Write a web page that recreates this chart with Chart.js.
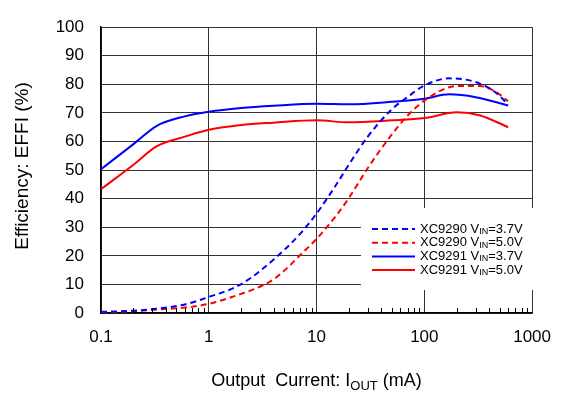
<!DOCTYPE html>
<html>
<head>
<meta charset="utf-8">
<script src="https://cdn.jsdelivr.net/npm/chart.js@4"></script>
<style>
  html, body { margin: 0; padding: 0; background: #fff; }
  #wrap { width: 565px; height: 394px; }
</style>
</head>
<body>
<div id="wrap"><canvas id="mainChart" width="565" height="394"></canvas></div>
<script>
// output current (mA) and efficiency (%)
const iout9290_37 = [0.1, 0.2, 0.33, 0.6, 1, 2, 4, 7, 10, 15, 20, 30, 50, 70, 100, 170, 300, 450, 600];
const eff9290_37  = [0.4, 0.8, 1.5, 3.0, 5.6, 10.1, 18.7, 27.6, 34.8, 44.5, 52.0, 61.8, 71.3, 75.6, 79.6, 82.1, 80.8, 77.4, 73.0];

const iout9290_50 = [0.1, 0.2, 0.33, 0.6, 1, 2, 2.7, 4, 5.5, 7, 10, 15, 20, 30, 50, 70, 100, 200, 330, 450, 600];
const eff9290_50  = [0.2, 0.6, 1.2, 1.9, 3.2, 6.7, 8.5, 11.8, 16.2, 20.2, 25.9, 33.8, 40.3, 50.8, 62.5, 69.1, 74.3, 79.4, 79.4, 77.6, 74.1];

const iout9291_37 = [0.1, 0.2, 0.33, 0.6, 1, 2, 4, 10, 20, 50, 100, 170, 300, 600];
const eff9291_37  = [50.3, 59.1, 65.5, 68.8, 70.4, 71.7, 72.5, 73.2, 73.0, 73.9, 75.0, 76.5, 75.5, 72.6];

const iout9291_50 = [0.1, 0.2, 0.33, 0.6, 1, 2, 4, 10, 20, 50, 100, 200, 330, 600];
const eff9291_50  = [43.3, 51.9, 58.4, 61.7, 64.1, 65.8, 66.6, 67.4, 66.7, 67.4, 68.2, 70.2, 69.1, 65.0];

const xMajorTicks = [0.1, 1, 10, 100, 1000];
const yTicks = [0, 10, 20, 30, 40, 50, 60, 70, 80, 90, 100];

const legendItems = [
    { name: 'XC9290', vin: '3.7V', color: '#0000ff', dash: [6, 4] },
    { name: 'XC9290', vin: '5.0V', color: '#ff0000', dash: [6, 4] },
    { name: 'XC9291', vin: '3.7V', color: '#0000ff', dash: [] },
    { name: 'XC9291', vin: '5.0V', color: '#ff0000', dash: [] }
];

const FONT = '"Liberation Sans", Arial, sans-serif';

function pts(xs, ys) {
    return xs.map((x, i) => ({ x: x, y: ys[i] }));
}

function makeSet(xs, ys, item) {
    return {
        label: item.name + ' VIN=' + item.vin,
        data: pts(xs, ys),
        borderColor: item.color,
        borderWidth: 2,
        borderDash: item.dash,
        pointRadius: 0,
        fill: false,
        cubicInterpolationMode: 'monotone'
    };
}

// minor ticks list for the log axis
const allXTicks = [];
xMajorTicks.forEach((m, i) => {
    allXTicks.push({ value: m, major: true });
    if (i < xMajorTicks.length - 1) {
        for (let k = 2; k <= 9; k++) allXTicks.push({ value: m * k, major: false });
    }
});

function drawSub(ctx, x, y, main, sub, size, subSize, after) {
    ctx.font = size + 'px ' + FONT;
    ctx.fillText(main, x, y);
    x += ctx.measureText(main).width;
    ctx.font = subSize + 'px ' + FONT;
    ctx.fillText(sub, x, y + size * 0.2);
    x += ctx.measureText(sub).width;
    ctx.font = size + 'px ' + FONT;
    ctx.fillText(after, x, y);
}

const extras = {
    id: 'extras',
    afterDraw(c) {
        const ctx = c.ctx;
        const xs = c.scales.x;
        const area = c.chartArea;
        ctx.save();

        // minor ticks pointing up from the bottom axis
        ctx.strokeStyle = '#000';
        ctx.lineWidth = 1;
        allXTicks.forEach(t => {
            if (t.major) return;
            const px = Math.round(xs.getPixelForValue(t.value)) + 0.5;
            ctx.beginPath();
            ctx.moveTo(px, area.bottom);
            ctx.lineTo(px, area.bottom - 5);
            ctx.stroke();
        });

        // legend box
        ctx.fillStyle = '#fff';
        ctx.fillRect(361, 208, 178, 82);
        ctx.textBaseline = 'middle';
        ctx.textAlign = 'left';
        legendItems.forEach((it, i) => {
            const y = 229 + i * 13.7;
            ctx.strokeStyle = it.color;
            ctx.lineWidth = 2;
            ctx.setLineDash(it.dash);
            ctx.beginPath();
            ctx.moveTo(372, y);
            ctx.lineTo(415, y);
            ctx.stroke();
            ctx.setLineDash([]);
            ctx.fillStyle = '#000';
            drawSub(ctx, 420, y, it.name + ' V', 'IN', 13, 9, '=' + it.vin);
        });

        // x axis title with subscript
        ctx.fillStyle = '#000';
        ctx.textBaseline = 'alphabetic';
        ctx.font = '18px ' + FONT;
        const a = 'Output  Current: I', b = 'OUT', d = ' (mA)';
        let w = ctx.measureText(a).width + ctx.measureText(d).width;
        ctx.font = '13px ' + FONT;
        w += ctx.measureText(b).width;
        drawSub(ctx, (area.left + area.right) / 2 - w / 2, 386, a, b, 18, 13, d);

        // y axis title
        ctx.translate(23, 166);
        ctx.rotate(-Math.PI / 2);
        ctx.textAlign = 'center';
        ctx.textBaseline = 'middle';
        ctx.font = '19px ' + FONT;
        ctx.fillText('Efficiency: EFFI (%)', 0, 0);
        ctx.restore();
    }
};

const ctx = document.getElementById('mainChart').getContext('2d');
new Chart(ctx, {
    type: 'line',
    data: {
        datasets: [
            makeSet(iout9290_37, eff9290_37, legendItems[0]),
            makeSet(iout9290_50, eff9290_50, legendItems[1]),
            makeSet(iout9291_37, eff9291_37, legendItems[2]),
            makeSet(iout9291_50, eff9291_50, legendItems[3])
        ]
    },
    options: {
        responsive: false,
        animation: false,
        layout: { padding: { top: 12, right: 29, left: 0, bottom: 0 } },
        plugins: { legend: { display: false }, tooltip: { enabled: false } },
        scales: {
            x: {
                type: 'logarithmic',
                min: 0.1,
                max: 1000,
                afterBuildTicks: s => { s.ticks = allXTicks.map(t => ({ value: t.value, major: t.major })); },
                afterFit: s => { s.height = 81; },
                ticks: {
                    autoSkip: false,
                    maxRotation: 0,
                    padding: 14,
                    color: '#000',
                    font: { family: FONT, size: 17 },
                    callback: (v) => xMajorTicks.includes(v) ? String(v) : ''
                },
                grid: {
                    drawTicks: false,
                    color: c => (c.tick && c.tick.major) ? '#333' : 'rgba(0,0,0,0)',
                    lineWidth: 1
                },
                border: { color: '#000', width: 1.5 }
            },
            y: {
                min: 0,
                max: 100,
                afterBuildTicks: s => { s.ticks = yTicks.map(v => ({ value: v })); },
                afterFit: s => { s.width = 101; },
                ticks: {
                    padding: 17,
                    color: '#000',
                    font: { family: FONT, size: 17 }
                },
                grid: { drawTicks: false, color: '#333', lineWidth: 1 },
                border: { color: '#000', width: 1.5 }
            }
        }
    },
    plugins: [extras]
});
</script>
</body>
</html>
